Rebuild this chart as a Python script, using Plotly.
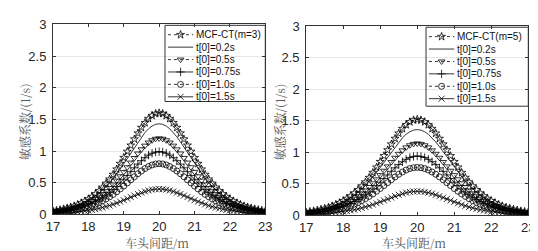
import plotly.graph_objects as go

# headway distance (m), 0.1 m steps from 17 to 23
headway = [round(17 + 0.1 * i, 1) for i in range(61)]

# normalised sensitivity profile (peak = 1 at 20 m)
profile = [0.032, 0.038, 0.044, 0.052, 0.061, 0.071, 0.082, 0.096, 0.112, 0.130,
           0.151, 0.174, 0.201, 0.232, 0.266, 0.305, 0.346, 0.393, 0.445, 0.501,
           0.559, 0.620, 0.681, 0.742, 0.801, 0.856, 0.904, 0.945, 0.975, 0.994,
           1.000,
           0.994, 0.975, 0.945, 0.904, 0.856, 0.801, 0.742, 0.681, 0.620, 0.559,
           0.501, 0.445, 0.393, 0.346, 0.305, 0.266, 0.232, 0.201, 0.174, 0.151,
           0.130, 0.112, 0.096, 0.082, 0.071, 0.061, 0.052, 0.044, 0.038, 0.032]

series_names_left = ["MCF-CT(m=3)", "t[0]=0.2s", "t[0]=0.5s", "t[0]=0.75s", "t[0]=1.0s", "t[0]=1.5s"]
series_names_right = ["MCF-CT(m=5)", "t[0]=0.2s", "t[0]=0.5s", "t[0]=0.75s", "t[0]=1.0s", "t[0]=1.5s"]
peaks_left = [1.60, 1.43, 1.20, 0.99, 0.80, 0.40]
peaks_right = [1.52, 1.36, 1.14, 0.94, 0.76, 0.38]

x_ticks = [17, 18, 19, 20, 21, 22, 23]
y_ticks = [0, 0.5, 1, 1.5, 2, 2.5, 3]
y_ticktext = ["0", "0.5", "1", "1.5", "2", "2.5", "3"]
x_title = "车头间距/m"
y_title = "敏感系数/(1/s)"

styles = [
    dict(dash="dot", symbol="star-open"),
    dict(dash="solid", symbol=None),
    dict(dash="dot", symbol="triangle-down-open"),
    dict(dash="solid", symbol="cross-thin-open"),
    dict(dash="dot", symbol="circle-open"),
    dict(dash="solid", symbol="x-thin-open"),
]

W, H = 538, 251
# panel pixel frames: (left, right, top, bottom)
frames = {"left": (39, 257, 10, 212), "right": (299, 527, 12, 213)}
# legend layout in pixels: box (l, r, t, b), first row y, row step, line x0, x1, text x
legends = {
    "left": dict(box=(154, 257, 11, 92), row0=21, step=13.2, lx0=157, lx1=183, tx=184),
    "right": dict(box=(422, 527, 13, 97), row0=23, step=13.2, lx0=425, lx1=451, tx=452),
}

fig = go.Figure()
shapes, annotations = [], []
MARKER = dict(size=6, color="black", line=dict(width=0.8, color="black"))
TXT = "Liberation Sans, Arial"


def add_panel(key, names, peaks, xa, ya):
    fl, fr, ft, fb = frames[key]
    px2x = lambda px: 17 + (px - fl) / (fr - fl) * 6
    py2y = lambda py: (fb - py) / (fb - ft) * 3
    for name, pk, st in zip(names, peaks, styles):
        vals = [pk * p for p in profile]
        kw = {}
        mode = "lines"
        if st["symbol"]:
            mode = "lines+markers"
            kw["marker"] = dict(MARKER, symbol=st["symbol"])
        fig.add_trace(go.Scatter(x=headway, y=vals, mode=mode, name=name, showlegend=False,
                                 line=dict(color="black", width=0.8, dash=st["dash"]),
                                 xaxis=xa, yaxis=ya, **kw))
    # legend (drawn manually to match the compact MATLAB legend)
    lg = legends[key]
    bl, br, bt, bb = lg["box"]
    shapes.append(dict(type="rect", xref="paper", yref="paper", layer="between",
                       x0=bl / W, x1=br / W, y0=1 - bb / H, y1=1 - bt / H,
                       fillcolor="white", line=dict(width=0)))
    shapes.append(dict(type="rect", xref="paper", yref="paper", layer="above",
                       x0=bl / W, x1=br / W, y0=1 - bb / H, y1=1 - bt / H,
                       fillcolor="rgba(0,0,0,0)", line=dict(width=1, color="#333")))
    for i, (name, st) in enumerate(zip(names, styles)):
        ry = lg["row0"] + lg["step"] * i
        shapes.append(dict(type="line", xref="paper", yref="paper", layer="above",
                           x0=lg["lx0"] / W, x1=lg["lx1"] / W, y0=1 - ry / H, y1=1 - ry / H,
                           line=dict(color="black", width=0.8, dash=st["dash"])))
        if st["symbol"]:
            mx = (lg["lx0"] + lg["lx1"]) / 2
            fig.add_trace(go.Scatter(x=[px2x(mx)], y=[py2y(ry)], mode="markers",
                                     marker=dict(MARKER, symbol=st["symbol"]),
                                     showlegend=False, hoverinfo="skip",
                                     xaxis=xa, yaxis=ya, cliponaxis=False))
        annotations.append(dict(text=name, xref="paper", yref="paper", x=lg["tx"] / W,
                                y=1 - ry / H, xanchor="left", yanchor="middle", showarrow=False,
                                font=dict(family=TXT, size=10, color="#111")))


add_panel("left", series_names_left, peaks_left, "x", "y")
add_panel("right", series_names_right, peaks_right, "x2", "y2")

TITLE_FONT = dict(family="Noto Serif CJK SC, Noto Sans CJK SC", size=12, color="#555")
for cx in (146, 410):
    annotations.append(dict(text=x_title, xref="paper", yref="paper", x=cx / W, y=1 - 242 / H,
                            xanchor="center", yanchor="middle", showarrow=False, font=TITLE_FONT))
for cx in (10, 271):
    annotations.append(dict(text=y_title, xref="paper", yref="paper", x=cx / W, y=1 - 113 / H,
                            xanchor="center", yanchor="middle", showarrow=False, textangle=-90,
                            font=TITLE_FONT))

axis_common = dict(showline=True, linecolor="#333", linewidth=1, mirror="ticks",
                   ticks="inside", ticklen=3, tickcolor="#333",
                   tickfont=dict(family=TXT, size=13, color="#262626"), zeroline=False)
xcommon = dict(axis_common, range=[17, 23], tickvals=x_ticks, showgrid=False)
ycommon = dict(axis_common, range=[0, 3], tickvals=y_ticks, ticktext=y_ticktext,
               showgrid=True, gridcolor="#e6e6e6", gridwidth=1, ticklabelstandoff=3)

fl, fr, ft, fb = frames["left"]
gl, gr, gt, gb = frames["right"]
fig.update_layout(
    width=W, height=H, margin=dict(l=0, r=0, t=0, b=0),
    plot_bgcolor="white", paper_bgcolor="white", showlegend=False,
    xaxis=dict(xcommon, domain=[fl / W, fr / W], anchor="y"),
    yaxis=dict(ycommon, domain=[1 - fb / H, 1 - ft / H], anchor="x"),
    xaxis2=dict(xcommon, domain=[gl / W, gr / W], anchor="y2"),
    yaxis2=dict(ycommon, domain=[1 - gb / H, 1 - gt / H], anchor="x2"),
    shapes=shapes, annotations=annotations,
)

fig.write_html("out.html")
